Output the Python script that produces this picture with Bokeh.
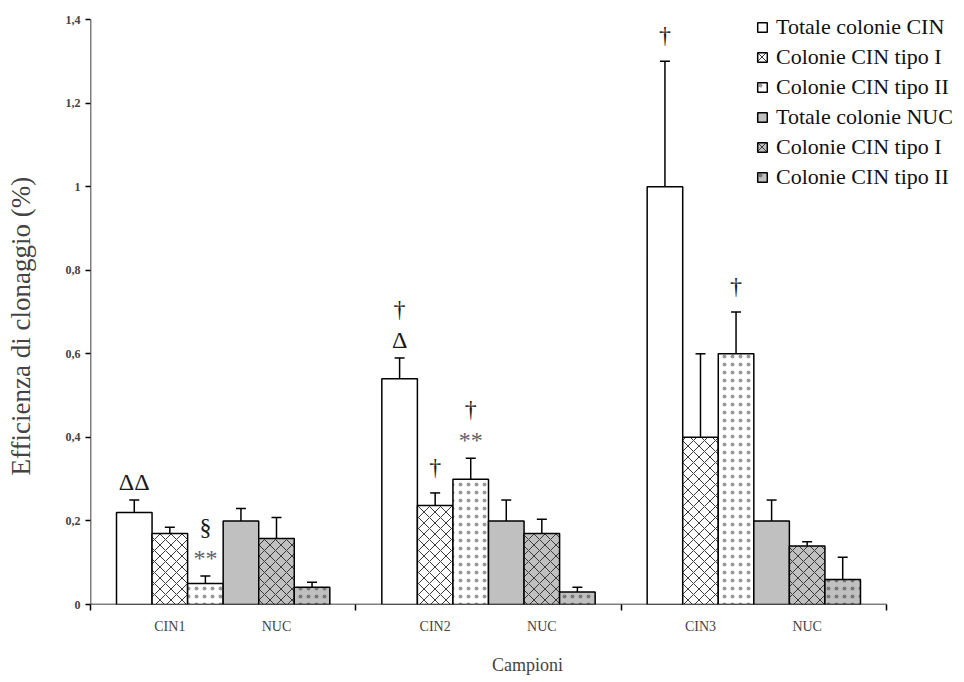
from bokeh.plotting import figure
from bokeh.models import (ColumnDataSource, Whisker, TeeHead, Legend, LegendItem,
                          Range1d, FixedTicker)
from bokeh.core.properties import value
from bokeh.embed import file_html
from bokeh.resources import INLINE

# ---------------- data ----------------
groups = ["CIN1", "CIN2", "CIN3"]
sub_labels = ["CIN1", "NUC", "CIN2", "NUC", "CIN3", "NUC"]
series_names = ["Totale colonie CIN", "Colonie CIN tipo I", "Colonie CIN tipo II",
                "Totale colonie NUC", "Colonie CIN tipo I", "Colonie CIN tipo II"]
tot_cin = [0.22, 0.54, 1.00]
tot_cin_err = [0.03, 0.05, 0.30]
cin_i = [0.17, 0.237, 0.40]
cin_i_err = [0.015, 0.03, 0.20]
cin_ii = [0.05, 0.30, 0.60]
cin_ii_err = [0.018, 0.05, 0.10]
tot_nuc = [0.20, 0.20, 0.20]
tot_nuc_err = [0.03, 0.05, 0.05]
nuc_i = [0.158, 0.17, 0.14]
nuc_i_err = [0.05, 0.034, 0.01]
nuc_ii = [0.041, 0.03, 0.06]
nuc_ii_err = [0.012, 0.011, 0.053]
y_ticks = [0, 0.2, 0.4, 0.6, 0.8, 1.0, 1.2, 1.4]
y_tick_labels = ["0", "0,2", "0,4", "0,6", "0,8", "1", "1,2", "1,4"]
# annotations: (group index, series index, symbols from bottom to top)
annotations = [
    (0, 0, ["ΔΔ"]),
    (0, 2, ["**", "§"]),
    (1, 0, ["Δ", "†"]),
    (1, 1, ["†"]),
    (1, 2, ["**", "†"]),
    (2, 0, ["†"]),
    (2, 2, ["†"]),
]

values = [tot_cin, cin_i, cin_ii, tot_nuc, nuc_i, nuc_ii]
errors = [tot_cin_err, cin_i_err, cin_ii_err, tot_nuc_err, nuc_i_err, nuc_ii_err]

# ---------------- styling ----------------
SERIF = "Liberation Serif"
GRAY = "#c0c0c0"
styles = [
    dict(fill_color="white", hatch_pattern=" "),
    dict(fill_color="white", hatch_pattern="diagonal_cross", hatch_scale=11, hatch_color="#3a3a3a", hatch_weight=1.0),
    dict(fill_color="white", hatch_pattern="dot", hatch_scale=8, hatch_color="#9a9a9a", hatch_weight=0.5),
    dict(fill_color=GRAY, hatch_pattern=" "),
    dict(fill_color=GRAY, hatch_pattern="diagonal_cross", hatch_scale=11, hatch_color="#3a3a3a", hatch_weight=1.0),
    dict(fill_color=GRAY, hatch_pattern="dot", hatch_scale=8, hatch_color="#777777", hatch_weight=0.5),
]

W = 0.134  # bar width in group units
n_series = len(values)
n_groups = len(groups)
y_max = y_ticks[-1]


def xpos(gi, si):
    return gi + 0.5 + (si - (n_series - 1) / 2) * W


p = figure(width=964, height=682, output_backend="svg", toolbar_location=None,
           x_range=Range1d(0, 3.294), y_range=Range1d(0, 1.4455),
           min_border_left=90, min_border_right=0, min_border_top=0, min_border_bottom=78)
p.outline_line_color = None
p.xgrid.visible = False
p.ygrid.visible = False
p.background_fill_color = "white"

# axis lines limited to the data extent
p.segment(x0=[0], y0=[0], x1=[n_groups], y1=[0], line_color="black", line_width=1.5)
p.segment(x0=[0], y0=[0], x1=[0], y1=[y_max], line_color="black", line_width=1.5)

legend_items = []
for si in range(n_series):
    xs = [xpos(gi, si) for gi in range(n_groups)]
    src = ColumnDataSource(dict(
        x=xs, top=values[si],
        upper=[v + e for v, e in zip(values[si], errors[si])],
        lower=[v - e for v, e in zip(values[si], errors[si])],
    ))
    r = p.vbar(x="x", top="top", bottom=0, width=W, source=src,
               line_color="black", line_width=1.5, **styles[si])
    legend_items.append(LegendItem(label=series_names[si], renderers=[r]))
    wk = Whisker(source=src, base="x", upper="upper", lower="lower",
                 line_color="black", line_width=1.5,
                 upper_head=TeeHead(size=10, line_width=1.5, line_color="black"),
                 lower_head=TeeHead(size=10, line_width=1.5, line_color="black"))
    p.add_layout(wk)

# annotations
ax, ay, at, aoff, acol = [], [], [], [], []
for gi, si, syms in annotations:
    top = values[si][gi] + errors[si][gi]
    base_gap = 26 if syms[0] == "†" else 18
    for k, s in enumerate(syms):
        ax.append(xpos(gi, si))
        ay.append(top)
        at.append(s)
        aoff.append(-(base_gap + 31 * k))
        acol.append("#5c6169" if s == "**" else "#1a1a1a")
asrc = ColumnDataSource(dict(x=ax, y=ay, text=at, yoff=aoff, color=acol))
p.text(x="x", y="y", text="text", y_offset="yoff", source=asrc,
       text_align="center", text_baseline="middle", text_color="color",
       text_font=value(SERIF), text_font_size="24px")

# legend
legend = Legend(items=legend_items, location=(666, 414),
                glyph_width=12, glyph_height=12, label_height=20, spacing=4,
                label_text_font=SERIF, label_text_font_size="22px",
                label_text_color="#111111", label_standoff=8,
                border_line_color=None, background_fill_alpha=0.0,
                padding=0, margin=0)
p.add_layout(legend)

# y axis
yax = p.yaxis[0]
yax.ticker = FixedTicker(ticks=y_ticks)
yax.major_label_overrides = {t: l for t, l in zip(y_ticks, y_tick_labels)}
yax.axis_line_color = None
yax.major_label_text_font = SERIF
yax.major_label_text_font_size = "12px"
yax.major_label_text_font_style = "bold"
yax.major_tick_out = 5
yax.major_tick_in = 0
yax.major_tick_line_width = 1.5
yax.minor_tick_out = 0
yax.minor_tick_in = 0
yax.axis_label = "Efficienza di clonaggio (%)" + "\u00a0" * 7
yax.axis_label_text_font = SERIF
yax.axis_label_text_font_size = "27px"
yax.axis_label_text_font_style = "normal"
yax.axis_label_standoff = 27

# x axis: labels at sub-group centres, ticks at group boundaries
xax = p.xaxis[0]
label_pos = []
for gi in range(n_groups):
    label_pos.append((xpos(gi, 0) + xpos(gi, 2)) / 2)
    label_pos.append((xpos(gi, 3) + xpos(gi, 5)) / 2)
xax.ticker = FixedTicker(ticks=label_pos, minor_ticks=list(range(n_groups + 1)))
xax.major_label_overrides = {t: l for t, l in zip(label_pos, sub_labels)}
xax.axis_line_color = None
xax.major_tick_out = 0
xax.major_tick_in = 0
xax.minor_tick_out = 6
xax.minor_tick_in = 0
xax.minor_tick_line_width = 1.5
xax.major_label_text_font = SERIF
xax.major_label_text_font_size = "14px"
xax.major_label_standoff = 8
xax.axis_label = "Campioni"
xax.axis_label_text_font = SERIF
xax.axis_label_text_font_size = "18px"
xax.axis_label_text_font_style = "normal"
xax.axis_label_standoff = 18

open("out.html", "w").write(file_html(p, INLINE))
